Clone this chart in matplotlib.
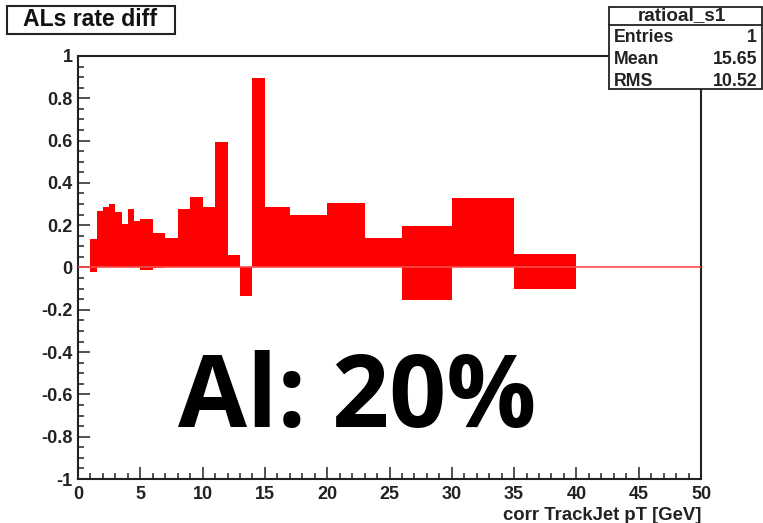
import numpy as np
import matplotlib
matplotlib.use("Agg")
import matplotlib.pyplot as plt
from matplotlib.patches import Rectangle
from matplotlib.ticker import MultipleLocator, FuncFormatter

# Bin edges in corrected TrackJet pT [GeV]
bin_edges = [1, 1.5, 2, 2.5, 3, 3.5, 4, 4.5, 5, 6, 7, 8, 9, 10, 11, 12, 13, 14,
             15, 17, 20, 23, 26, 30, 35, 40]
# Positive part of the rate difference per bin
rate_diff_pos = [0.133, 0.268, 0.286, 0.302, 0.262, 0.207, 0.278, 0.220, 0.228,
                 0.165, 0.141, 0.278, 0.335, 0.288, 0.594, 0.058, 0.0, 0.896,
                 0.288, 0.248, 0.303, 0.140, 0.196, 0.327, 0.066]
# Negative part of the rate difference per bin
rate_diff_neg = [-0.022, 0.0, 0.0, 0.0, 0.0, 0.0, 0.0, 0.0, -0.013,
                 -0.004, 0.0, 0.0, 0.0, 0.0, 0.0, 0.0, -0.134, 0.0,
                 0.0, 0.0, 0.0, 0.0, -0.152, 0.0, -0.103]

hist_title = "ALs rate diff"
stats_name = "ratioal_s1"
stats_rows = [("Entries", "1"), ("Mean", "15.65"), ("RMS", "10.52")]
x_label = "corr TrackJet pT [GeV]"
annotation = "Al: 20%"

plt.rcParams["font.family"] = ["Liberation Sans", "DejaVu Sans"]

W, H = 763, 523
fig = plt.figure(figsize=(W / 100, H / 100), dpi=100)
fig.patch.set_facecolor("white")

def fx(px):
    return px / W

def fy(py):
    return 1 - py / H

ax_l, ax_r, ax_t, ax_b = 78, 701, 56, 479
ax = fig.add_axes([fx(ax_l), fy(ax_b), fx(ax_r - ax_l), (ax_b - ax_t) / H])

edges = np.array(bin_edges)
widths = np.diff(edges)
lefts = edges[:-1]

bar_kw = dict(align="edge", color="#ff0000", edgecolor="none", linewidth=0)
ax.bar(lefts, rate_diff_pos, widths, **bar_kw)
ax.bar(lefts, rate_diff_neg, widths, **bar_kw)
ax.axhline(0, color="#ff4a4a", linewidth=1.2, zorder=3)

ax.set_xlim(0, 50)
ax.set_ylim(-1, 1)

ax.xaxis.set_major_locator(MultipleLocator(5))
ax.xaxis.set_minor_locator(MultipleLocator(1))
ax.yaxis.set_major_locator(MultipleLocator(0.2))
ax.yaxis.set_minor_locator(MultipleLocator(0.05))
ax.xaxis.set_major_formatter(FuncFormatter(lambda v, p: f"{v:g}"))
ax.yaxis.set_major_formatter(FuncFormatter(lambda v, p: "0" if abs(v) < 1e-9 else f"{v:g}"))

ax.tick_params(which="both", direction="in", top=False, right=False,
               color="#222222", width=1.1)
ax.tick_params(axis="y", which="major", length=8.5, labelsize=13, pad=4)
ax.tick_params(axis="x", which="major", length=8.5, labelsize=13, pad=5)
ax.tick_params(which="minor", length=4.3)
for lab in ax.get_xticklabels() + ax.get_yticklabels():
    lab.set_fontweight("bold")
    lab.set_color("#222222")

for sp in ax.spines.values():
    sp.set_linewidth(1.5)
    sp.set_color("#222222")

ax.set_xlabel(x_label, fontsize=13.3, fontweight="bold", color="#222222",
              ha="right", x=1.0, labelpad=3)

# Histogram title box
fig.add_artist(Rectangle((fx(7), fy(34)), fx(175 - 7), (34 - 6) / H,
                         transform=fig.transFigure, facecolor="white",
                         edgecolor="#222222", linewidth=1.5))
fig.text(fx(90), fy(20), hist_title, ha="center", va="center",
         fontsize=16.6, fontweight="bold", color="#111111")

# Statistics box
sb_l, sb_r, sb_t, sb_b, sb_div = 609, 762, 7, 89, 25
fig.add_artist(Rectangle((fx(sb_l), fy(sb_b)), fx(sb_r - sb_l), (sb_b - sb_t) / H,
                         transform=fig.transFigure, facecolor="white",
                         edgecolor="#222222", linewidth=1.3, zorder=5))
fig.add_artist(plt.Line2D([fx(sb_l), fx(sb_r)], [fy(sb_div), fy(sb_div)],
                          transform=fig.transFigure, color="#222222",
                          linewidth=1.3, zorder=6))
fig.text(fx(682), fy(16), stats_name, ha="center", va="center",
         fontsize=13.6, fontweight="bold", color="#222222", zorder=7)
row_y = [38, 59.5, 81]
for (name, val), yy in zip(stats_rows, row_y):
    fig.text(fx(614), fy(yy), name, ha="left", va="center",
             fontsize=12.8, fontweight="bold", color="#222222", zorder=7)
    fig.text(fx(757), fy(yy), val, ha="right", va="center",
             fontsize=12.8, fontweight="bold", color="#222222", zorder=7)

# Large annotation
fig.text(fx(357), fy(427), annotation, ha="center", va="baseline",
         fontsize=72, fontweight="bold", family=["Open Sans", "DejaVu Sans"],
         color="black")

fig.savefig("out.png", dpi=100, facecolor="white")
